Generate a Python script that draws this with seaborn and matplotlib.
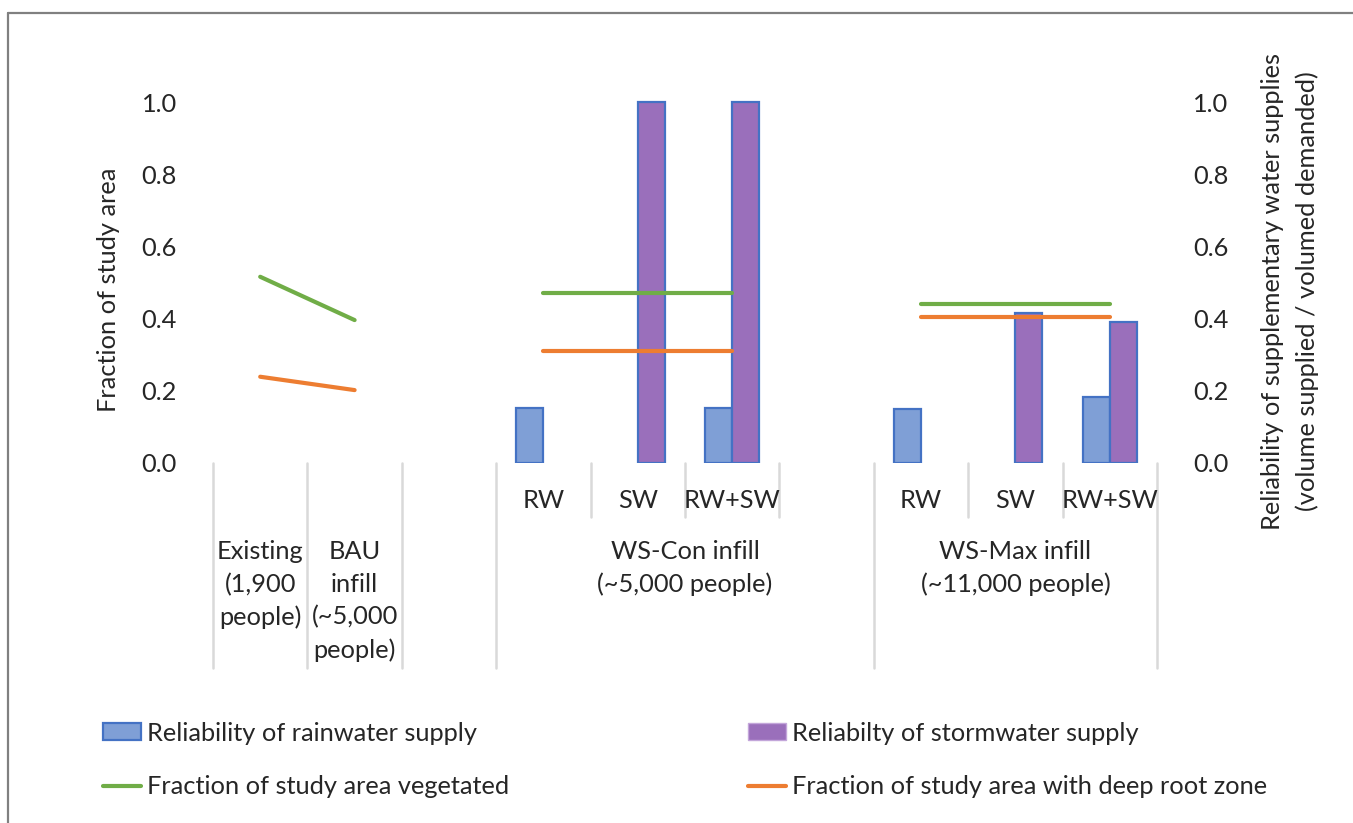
import pandas as pd
import numpy as np
import seaborn as sns
import matplotlib.pyplot as plt
from matplotlib.lines import Line2D
from matplotlib.patches import Patch

# category slots along the x axis (blank slots are gaps between groups)
slots = ["Existing", "BAU", "gap1", "Con RW", "Con SW", "Con RW+SW", "gap2", "Max RW", "Max SW", "Max RW+SW"]
inner_labels = ["", "", "", "RW", "SW", "RW+SW", "", "RW", "SW", "RW+SW"]

# outer group labels and the slot range each group covers
group_labels = ["Existing\n(1,900\npeople)", "BAU\ninfill\n(~5,000\npeople)", "",
                "WS-Con infill\n(~5,000 people)", "WS-Max infill\n(~11,000 people)"]
group_spans = [(0, 0), (1, 1), (2, 2), (3, 6), (7, 9)]

# bar series (reliability, right axis)
rainwater = [np.nan, np.nan, np.nan, 0.152, np.nan, 0.152, np.nan, 0.149, np.nan, 0.183]
stormwater = [np.nan, np.nan, np.nan, np.nan, 1.0, 1.0, np.nan, np.nan, 0.415, 0.39]

# line series (fraction of study area, left axis)
vegetated = [0.516, 0.396, np.nan, 0.47, 0.47, 0.47, np.nan, 0.44, 0.44, 0.44]
deep_root = [0.239, 0.202, np.nan, 0.311, 0.311, 0.311, np.nan, 0.405, 0.405, 0.405]
segment = [0, 0, -1, 1, 1, 1, -1, 2, 2, 2]

RAIN = "Reliability of rainwater supply"
STORM = "Reliabilty of stormwater supply"
VEG = "Fraction of study area vegetated"
DEEP = "Fraction of study area with deep root zone"

W, H = 1353, 823
FS = 18.3

sns.set_style("white")
plt.rcParams["font.family"] = ["Lato", "DejaVu Sans"]

bars = pd.DataFrame({
    "slot": slots * 2,
    "value": rainwater + stormwater,
    "series": [RAIN] * len(slots) + [STORM] * len(slots),
})
lines = pd.DataFrame({
    "pos": list(range(len(slots))) * 2,
    "value": vegetated + deep_root,
    "series": [VEG] * len(slots) + [DEEP] * len(slots),
    "segment": segment * 2,
})
lines = lines.dropna()

fig = plt.figure(figsize=(W / 100, H / 100), dpi=100)
ax = fig.add_axes([213 / W, 1 - 463 / H, (1157 - 213) / W, (463 - 66) / H])

sns.barplot(data=bars, x="slot", y="value", hue="series", order=slots,
            hue_order=[RAIN, STORM], palette=["#7F9FD6", "#9A6FBB"],
            width=0.57, gap=0, ax=ax, legend=False, saturation=1)
for patch, ec, lw in zip(ax.patches, ["#4472C4"] * 10 + ["#C3A6DA"] * 10, [1.6] * 10 + [1.0] * 10):
    patch.set_edgecolor(ec)
    patch.set_linewidth(lw)

ax2 = ax.twinx()
for name, color in [(VEG, "#70AD47"), (DEEP, "#ED7D31")]:
    sub = lines[lines["series"] == name]
    sns.lineplot(data=sub, x="pos", y="value", units="segment", estimator=None,
                 color=color, linewidth=3, ax=ax2, legend=False, solid_capstyle="round")

for a in (ax, ax2):
    a.set_xlim(-0.5, len(slots) - 0.5)
    a.set_ylim(0, 1.1)
    a.set_yticks([0, 0.2, 0.4, 0.6, 0.8, 1.0])
    a.set_yticklabels([f"{v:.1f}" for v in [0, 0.2, 0.4, 0.6, 0.8, 1.0]], fontsize=FS, color="#262626")
    a.tick_params(axis="y", length=0, pad=26)
    a.set_xlabel("")
    a.set_ylabel("")
    for s in a.spines.values():
        s.set_visible(False)
ax.set_xticks([])
ax2.set_xticks([])

fig.text(108 / W, 1 - 290 / H, "Fraction of study area", rotation=90,
         ha="center", va="center", fontsize=FS, color="#262626")
fig.text(1290 / W, 1 - 291 / H, "Reliability of supplementary water supplies\n(volume supplied / volumed demanded)",
         rotation=90, ha="center", va="center", fontsize=FS, color="#262626", linespacing=1.6)

# multi-level category axis
blend = ax.get_xaxis_transform()
y_axis = 0.0
y_mid = -(517 - 463) / (463 - 66)
y_low = -(668 - 463) / (463 - 66)
for i, lab in enumerate(inner_labels):
    if lab:
        ax.text(i, -(500 - 463) / (463 - 66), lab, transform=blend, ha="center", va="center",
                fontsize=FS, color="#262626")
long_edges = set()
for a, b in group_spans:
    long_edges.update([a - 0.5, b + 0.5])
for k in range(len(slots) + 1):
    edge = k - 0.5
    bottom = y_low if edge in long_edges else y_mid
    ax.add_line(Line2D([edge, edge], [y_axis, bottom], transform=blend, color="#D9D9D9",
                       linewidth=1.8, clip_on=False))
for lab, (a, b) in zip(group_labels, group_spans):
    if lab:
        ax.text((a + b) / 2, -(540 - 463) / (463 - 66), lab, transform=blend, ha="center", va="top",
                fontsize=FS, color="#262626", linespacing=1.5)

# legend in two columns
h_rain = Patch(facecolor="#7F9FD6", edgecolor="#4472C4", linewidth=1.6)
h_storm = Patch(facecolor="#9A6FBB", edgecolor="#C3A6DA", linewidth=1.0)
h_veg = Line2D([], [], color="#70AD47", linewidth=3, solid_capstyle="round")
h_deep = Line2D([], [], color="#ED7D31", linewidth=3, solid_capstyle="round")
kw = dict(frameon=False, fontsize=FS, handlelength=1.5, handleheight=0.65, handletextpad=0.25,
          labelspacing=1.2, borderpad=0, borderaxespad=0, loc="center left")
leg1 = fig.legend([h_rain, h_veg], [RAIN, VEG], bbox_to_anchor=(103 / W, 1 - 760 / H), **kw)
leg2 = fig.legend([h_storm, h_deep], [STORM, DEEP], bbox_to_anchor=(748 / W, 1 - 760 / H), **kw)
for t in leg1.get_texts() + leg2.get_texts():
    t.set_color("#262626")

# chart area border (left and top only visible)
fig.add_artist(Line2D([8 / W, 8 / W], [0, 1 - 13 / H], color="#808080", linewidth=1.6))
fig.add_artist(Line2D([8 / W, 1], [1 - 13 / H, 1 - 13 / H], color="#808080", linewidth=1.6))

fig.savefig("out.png", dpi=100)
